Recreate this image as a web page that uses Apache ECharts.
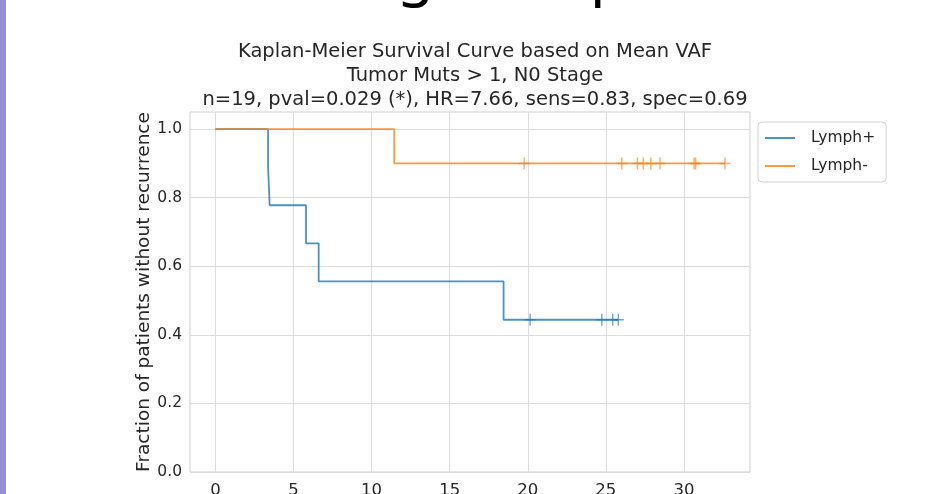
<!DOCTYPE html>
<html>
<head>
<meta charset="utf-8">
<script src="https://cdn.jsdelivr.net/npm/echarts@6/dist/echarts.min.js"></script>
<style>
html,body{margin:0;padding:0;background:#fff;overflow:hidden;}
#chart{width:948px;height:494px;}
</style>
</head>
<body>
<div id="chart"></div>
<script>
// ---- data ----
const titleLines = [
  'Kaplan-Meier Survival Curve based on Mean VAF',
  'Tumor Muts > 1, N0 Stage',
  'n=19, pval=0.029 (*), HR=7.66, sens=0.83, spec=0.69'
];
const yAxisName = 'Fraction of patients without recurrence';
const seriesNames = ['Lymph+', 'Lymph-'];
const xTicks = [0, 5, 10, 15, 20, 25, 30];
const yTicks = [0.0, 0.2, 0.4, 0.6, 0.8, 1.0];

// Lymph+ (event times and survival after each step)
const lymphPosTimes = [0, 3.37, 3.47, 5.80, 6.61, 18.45, 25.80];
const lymphPosSurv  = [1.0, 0.889, 0.778, 0.667, 0.556, 0.444, 0.444];
const lymphPosCensor = [20.15, 24.74, 25.44, 25.80];

// Lymph-
const lymphNegTimes = [0, 11.45, 32.63];
const lymphNegSurv  = [1.0, 0.9, 0.9];
const lymphNegCensor = [19.77, 26.02, 27.02, 27.40, 27.88, 28.47, 30.65, 30.75, 32.63];

const headingGlyphs = ['g', 'p'];

// ---- helpers ----
function stepValue(times, surv, t) {
  let v = surv[0];
  for (let i = 0; i < times.length; i++) { if (times[i] <= t) v = surv[i]; }
  return v;
}
function pairs(xs, ys) { return xs.map((x, i) => [x, ys[i]]); }
function censorPoints(c, times, surv) { return c.map(t => [t, stepValue(times, surv, t)]); }

const blue = 'rgba(31,119,180,0.8)';
const orange = 'rgba(255,127,14,0.8)';
const plusPath = 'path://M-0.13,-1H0.13V1H-0.13Z M-1,-0.13H1V0.13H-1Z';
const txt = '#262626';
const FONT = 'DejaVu Sans';

const chart = echarts.init(document.getElementById('chart'), null, {renderer: 'canvas'});
chart.setOption({
  animation: false,
  backgroundColor: '#fff',
  title: {
    text: titleLines.join('\n'),
    left: 470, top: 35, textAlign: 'center',
    textStyle: {fontFamily: FONT, fontSize: 19.5, fontWeight: 'normal', color: txt, lineHeight: 24}
  },
  legend: {
    data: seriesNames,
    orient: 'vertical',
    left: 758, top: 122,
    padding: [7, 11, 7, 7],
    itemGap: 10,
    itemWidth: 30, itemHeight: 2,
    icon: 'rect',
    borderColor: '#d0d0d0', borderWidth: 1, borderRadius: 4,
    textStyle: {fontFamily: FONT, fontSize: 15.5, color: txt, padding: [0, 0, 0, 11], lineHeight: 18}
  },
  grid: {left: 190, right: 198, top: 112, bottom: 22, show: true, borderColor: '#cfcfcf', borderWidth: 1,
         containLabel: false, outerBoundsMode: 'none'},
  xAxis: {
    type: 'value', min: -1.63, max: 34.23,
    axisLine: {show: false}, axisTick: {show: false, customValues: xTicks},
    axisLabel: {customValues: xTicks, fontFamily: FONT, fontSize: 16.5, color: txt, margin: 10},
    splitLine: {show: true, lineStyle: {color: '#dcdcdc', width: 1}}
  },
  yAxis: {
    type: 'value', min: 0, max: 1.05,
    name: yAxisName, nameLocation: 'middle', nameGap: 36, nameRotate: 90, nameMoveOverlap: false,
    nameTextStyle: {fontFamily: FONT, fontSize: 18.5, color: txt},
    axisLine: {show: false}, axisTick: {show: false, customValues: yTicks},
    axisLabel: {customValues: yTicks, fontFamily: FONT, fontSize: 15.5, color: txt, margin: 8, formatter: v => v.toFixed(1)},
    splitLine: {show: true, lineStyle: {color: '#dcdcdc', width: 1}}
  },
  graphic: [
    {type: 'rect', left: 0, top: 0, shape: {width: 6, height: 494}, style: {fill: '#958fd1'}},
    {type: 'text', x: 397, y: -53, style: {text: headingGlyphs[0], font: '60px "Noto Sans"', fill: '#000', verticalAlign: 'top'}},
    {type: 'text', x: 590, y: -53, style: {text: headingGlyphs[1], font: '60px "Noto Sans"', fill: '#000', verticalAlign: 'top'}}
  ],
  series: [
    {name: seriesNames[0], type: 'line', step: 'end', data: pairs(lymphPosTimes, lymphPosSurv),
     showSymbol: false, symbol: 'none', lineStyle: {color: blue, width: 1.8}, itemStyle: {color: blue}},
    {name: seriesNames[0] + ' censored', type: 'scatter', data: censorPoints(lymphPosCensor, lymphPosTimes, lymphPosSurv),
     symbol: plusPath, symbolSize: [11, 12], itemStyle: {color: blue}},
    {name: seriesNames[1], type: 'line', step: 'end', data: pairs(lymphNegTimes, lymphNegSurv),
     showSymbol: false, symbol: 'none', lineStyle: {color: orange, width: 1.8}, itemStyle: {color: orange}},
    {name: seriesNames[1] + ' censored', type: 'scatter', data: censorPoints(lymphNegCensor, lymphNegTimes, lymphNegSurv),
     symbol: plusPath, symbolSize: [11, 12], itemStyle: {color: orange}}
  ]
});
</script>
</body>
</html>
